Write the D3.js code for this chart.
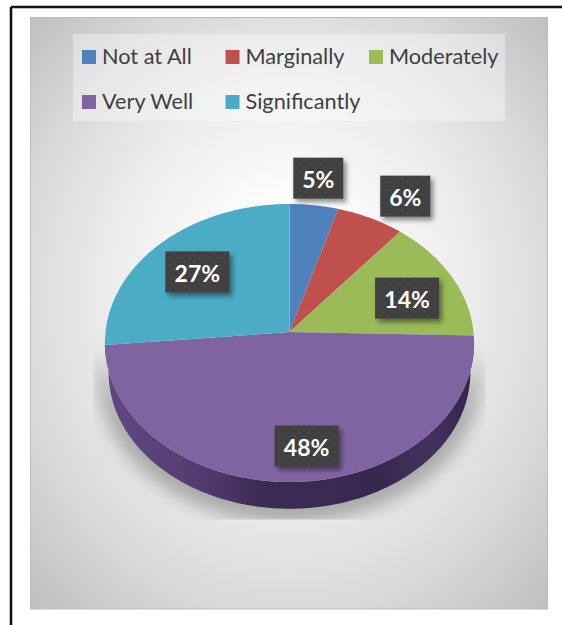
<!DOCTYPE html>
<html><head><meta charset="utf-8">
<style>html,body{margin:0;padding:0;background:#fff}svg{display:block}text{font-family:Lato,"Open Sans",sans-serif}</style>
<script src="https://cdn.jsdelivr.net/npm/d3@7"></script></head>
<body><svg id="c" width="562" height="625"></svg>
<script>
const categories = ["Not at All","Marginally","Moderately","Very Well","Significantly"];
const values = [4.6, 6.4, 14.4, 48.1, 26.5];
const valueLabels = ["5%","6%","14%","48%","27%"];
const colors = ["#4f81bd","#c0504d","#9bbb59","#8064a2","#4bacc6"];
const legendRows = [0,0,0,1,1];
const legendCols = [0,1,2,0,1];
// manual label placement (px away from each slice's inner point), as in the source chart
const labelNudge = [[10,-57],[54,-49],[-5,8],[12,4],[6,7]];

const svg = d3.select("#c");
const defs = svg.append("defs");

// perspective view of the pie disc
const tilt = 0.079;
const sx = d3.scaleLinear().domain([-1,1]).range([105.5,473.5]);
const sy = d3.scaleLinear().domain([-1,1]).range([470.1,193.9]);
const project = (a, r, dy=0) => {
  const u = r*Math.sin(a), v = r*Math.cos(a), den = 1 + tilt*v;
  return [sx(u/den), sy(v/den) + dy];
};
const arcs = d3.pie().sort(null).value(d=>d)(values);
const line = d3.line();
const step = Math.PI/180;
const rimPts = (a0,a1,r,dy) => d3.range(a0,a1,step).concat([a1]).map(a=>project(a,r,dy));

// backgrounds
const bg = defs.append("radialGradient").attr("id","bg").attr("cx",.5).attr("cy",.5).attr("fx",.5).attr("fy",.43).attr("r",.72);
[[0,"#ffffff"],[.2,"#fcfcfc"],[.5,"#ebebeb"],[.72,"#dadada"],[1,"#bdbdbd"]].forEach(s=>bg.append("stop").attr("offset",s[0]).attr("stop-color",s[1]));
svg.append("rect").attr("x",30.5).attr("y",17.5).attr("width",517).attr("height",591.5)
  .attr("fill","url(#bg)").attr("stroke","#bdbdbd").attr("stroke-width",1);

// outer frame
svg.append("path").attr("d","M11,7H562M11,7V625").attr("fill","none").attr("stroke","#111").attr("stroke-width",2.6);

// legend
svg.append("rect").attr("x",73).attr("y",34).attr("width",432).attr("height",87).attr("fill","#fff").attr("fill-opacity",.36);
const lx = d3.scalePoint().domain([0,1,2]).range([82,369]);
const ly = d3.scalePoint().domain([0,1]).range([50,95]);
const leg = svg.append("g").selectAll("g").data(categories).join("g")
  .attr("transform",(d,i)=>`translate(${lx(legendCols[i])},${ly(legendRows[i])})`);
leg.append("rect").attr("width",14).attr("height",14).attr("fill",(d,i)=>colors[i]);
leg.append("text").attr("x",20).attr("y",14).attr("font-size",21.7).attr("fill","#404040").text(d=>d);

// ground shadow
defs.append("filter").attr("id","blur").attr("x","-20%").attr("y","-20%").attr("width","140%").attr("height","140%")
  .append("feGaussianBlur").attr("stdDeviation",9);
defs.append("clipPath").attr("id","shClip").append("rect").attr("x",93).attr("y",335).attr("width",393).attr("height",184.5);
const a0 = 94.5*step, a1 = 265.5*step;
const sideShape = (dy,r=1) => line(rimPts(a0,a1,r,dy).concat(rimPts(a0,a1,1,0).reverse()))+"Z";
svg.append("g").attr("clip-path","url(#shClip)").append("path")
  .attr("d",sideShape(36,1.03)).attr("fill","#a8a8a8").attr("filter","url(#blur)");

// pie side
const side = defs.append("linearGradient").attr("id","side").attr("gradientUnits","userSpaceOnUse").attr("x1",105).attr("x2",474).attr("y1",0).attr("y2",0);
[[0,"#5f4880"],[.2,"#574073"],[.33,"#4a3566"],[.42,"#3b2a52"],[.75,"#38284e"],[.88,"#43325e"],[1,"#33244a"]].forEach(s=>side.append("stop").attr("offset",s[0]).attr("stop-color",s[1]));
svg.append("path").attr("d",sideShape(30,.98)).attr("fill","url(#side)");

// pie top
const apex = project(0,0);
svg.append("g").selectAll("path").data(arcs).join("path")
  .attr("d",d=>line([apex].concat(rimPts(d.startAngle,d.endAngle,1,0)))+"Z")
  .attr("fill",(d,i)=>colors[i]);

// data labels
const pat = defs.append("pattern").attr("id","dots").attr("patternUnits","userSpaceOnUse").attr("width",10).attr("height",8);
pat.append("rect").attr("width",10).attr("height",8).attr("fill","#404040");
pat.append("circle").attr("cx",2.5).attr("cy",2).attr("r",.9).attr("fill","#4f4f4f");
pat.append("circle").attr("cx",7.5).attr("cy",6).attr("r",.9).attr("fill","#4f4f4f");
defs.append("filter").attr("id","ds").attr("x","-20%").attr("y","-20%").attr("width","150%").attr("height","150%")
  .append("feDropShadow").attr("dx",3).attr("dy",3.5).attr("stdDeviation",2.6).attr("flood-color","#000").attr("flood-opacity",.45);
const lab = svg.append("g").selectAll("g").data(arcs).join("g")
  .attr("transform",(d,i)=>{
    const p = project((d.startAngle+d.endAngle)/2,.75);
    return `translate(${p[0]+labelNudge[i][0]},${p[1]+labelNudge[i][1]})`;
  });
const boxW = i => valueLabels[i].length>2 ? 64 : 50;
lab.append("rect").attr("x",(d,i)=>-boxW(i)/2).attr("y",-20.5).attr("width",(d,i)=>boxW(i)).attr("height",41)
  .attr("fill","url(#dots)").attr("filter","url(#ds)");
lab.append("text").attr("text-anchor","middle").attr("y",10).attr("font-size",23).attr("font-weight",700).attr("fill","#fff")
  .text((d,i)=>valueLabels[i]);
</script></body></html>
